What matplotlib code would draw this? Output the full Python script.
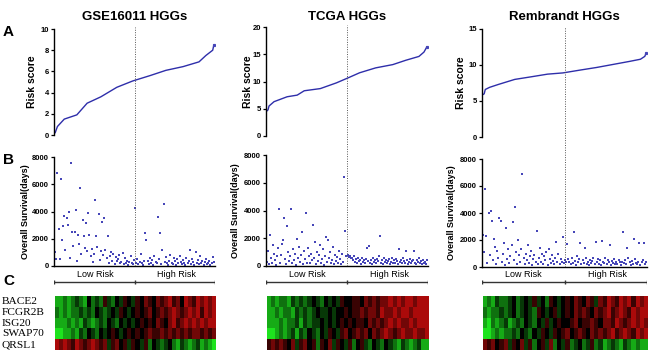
import numpy as np
import matplotlib
matplotlib.use("Agg")
import matplotlib.pyplot as plt
from matplotlib.colors import LinearSegmentedColormap

plt.rcParams["font.family"] = ["Liberation Sans", "DejaVu Sans"]

# =============================================================================
# DATA
# =============================================================================
TITLES = ["GSE16011 HGGs", "TCGA HGGs", "Rembrandt HGGs"]
GENES = ["BACE2", "FCGR2B", "ISG20", "SWAP70", "QRSL1"]

# risk score curve: (sample rank, risk score) points
gse_risk_rank = [0, 2, 8, 19, 28, 40, 54, 68, 83, 97, 112, 126, 132, 138, 139]
gse_risk = [0.2, 0.8, 1.5, 1.9, 3.0, 3.6, 4.5, 5.1, 5.6, 6.1, 6.45, 6.9, 7.5, 8.0, 8.5]
tcga_risk_rank = [0, 1, 2, 7, 20, 30, 37, 53, 69, 81, 92, 108, 125, 138, 151, 156, 159]
tcga_risk = [4.6, 4.8, 5.5, 6.3, 7.2, 7.5, 8.3, 8.7, 9.75, 10.7, 11.6, 12.5, 13.1, 13.9, 14.6, 15.4, 16.4]
remb_risk_rank = [0, 1, 2, 6, 14, 29, 44, 59, 73, 89, 104, 119, 134, 144, 148, 149]
remb_risk = [5.9, 6.0, 6.6, 6.9, 7.3, 8.0, 8.36, 8.73, 8.9, 9.3, 9.66, 10.08, 10.5, 10.8, 11.2, 11.6]

# overall survival (days), samples ordered by risk score
gse_surv = [
    1050, 550, 6800, 2720, 480, 6360, 1900, 2940, 3700, 1200,
    3550, 3010, 3990, 620, 7530, 2520, 1500, 2520, 4110, 350,
    2280, 1600, 5750, 900, 3380, 2200, 1300, 3130, 1100, 3870,
    2280, 700, 1250, 300, 900, 4840, 2200, 1400, 3800, 450,
    1100, 3250, 800, 3550, 1200, 600, 2230, 250, 700, 1000,
    400, 900, 150, 650, 350, 500, 800, 200, 300, 950,
    150, 600, 250, 400, 100, 300, 700, 200, 150, 450,
    4250, 200, 500, 150, 300, 900, 250, 100, 400, 2400,
    1900, 350, 150, 600, 250, 450, 100, 700, 300, 200,
    3600, 500, 2400, 150, 1150, 4550, 300, 650, 200, 100,
    400, 800, 250, 150, 600, 350, 100, 500, 200, 750,
    300, 150, 450, 250, 100, 600, 200, 350, 1200, 150,
    500, 300, 100, 1000, 250, 450, 150, 700, 200, 350,
    100, 300, 550, 150, 250, 400, 100, 200, 650, 300,
]
tcga_surv = [
    300, 1100, 150, 2230, 600, 200, 1500, 900, 400, 100,
    700, 1300, 4100, 250, 800, 1600, 1870, 3480, 500, 150,
    2880, 1000, 350, 700, 4100, 200, 1200, 450, 900, 100,
    1920, 600, 1400, 300, 800, 2470, 150, 1100, 500, 3840,
    250, 1300, 700, 200, 900, 400, 2950, 600, 1700, 150,
    1000, 350, 800, 1500, 250, 500, 1200, 100, 700, 2070,
    300, 1870, 600, 1000, 200, 450, 1400, 150, 800, 350,
    650, 250, 1100, 500, 150, 900, 300, 6440, 2550, 700,
    800, 650, 750, 550, 600, 400, 700, 300, 500, 250,
    600, 350, 450, 150, 550, 300, 400, 200, 500, 1270,
    350, 1470, 250, 450, 150, 600, 300, 400, 200, 500,
    350, 700, 2190, 250, 400, 150, 600, 300, 450, 200,
    350, 500, 150, 300, 600, 250, 400, 200, 500, 350,
    150, 1230, 300, 450, 200, 550, 350, 250, 1080, 400,
    150, 300, 500, 200, 350, 450, 1080, 250, 150, 400,
    300, 550, 200, 350, 150, 450, 250, 300, 150, 400,
]
remb_surv = [
    2370, 1100, 5750, 2300, 300, 4020, 900, 4150, 3410, 500,
    2050, 1500, 200, 1200, 700, 3650, 3400, 400, 1000, 1800,
    150, 2860, 600, 1300, 300, 800, 1600, 3360, 500, 4470,
    1100, 200, 2000, 900, 400, 1300, 6890, 700, 250, 1000,
    500, 1600, 300, 800, 1200, 150, 600, 900, 400, 2690,
    200, 700, 1400, 350, 1000, 250, 800, 500, 1100, 150,
    1310, 600, 300, 900, 450, 200, 700, 1880, 350, 1000,
    250, 600, 400, 2250, 300,
    500, 350, 1680, 600, 400, 250, 700, 300, 2620, 450,
    150, 800, 350, 600, 1800, 200, 500, 300, 1430, 650,
    250, 400, 150, 550, 300, 450, 700, 200, 1880, 350,
    600, 250, 500, 150, 1950, 400, 300, 650, 200, 500,
    350, 1630, 150, 450, 300, 600, 250, 400, 200, 550,
    350, 150, 400, 2620, 300, 500, 200, 1430, 650, 350,
    150, 450, 250, 2070, 600, 300, 200, 400, 1800, 150,
    350, 500, 1800, 250, 400,
]

# expression heatmaps (row = gene, low -> high risk), green < 0 < red
gse_expr = [
    [-3, -3, -2, -3, -2, -1, -2, -3, 0, -2, -1, -2, 1, -1, -2, 0, -1, 1, 0, -1, 1, 0, 2, 1, 0, 2, 1, 2, 3, 1, 2, 0, 3, 2, 1, 3, 2, 3, 2, 3],
    [-2, -3, -2, -3, -2, -2, -1, -2, -1, -2, 0, -1, -2, -1, 0, -1, 1, 0, -1, 0, 1, 0, 1, 2, 0, 1, 2, 1, 2, 3, 2, 1, 2, 3, 2, 3, 1, 3, 2, 3],
    [-3, -3, -3, -2, -3, -2, -3, -1, -2, -3, -2, -1, -2, 0, -1, -2, 0, -1, 0, -1, 0, 1, 0, 1, 0, 2, 1, 0, 2, 3, 1, 2, 3, 2, 3, 2, 3, 2, 3, 3],
    [-4, -4, -3, -3, -2, -3, -1, -2, 0, -1, -2, 0, -1, 0, 1, 0, -1, 0, 1, 0, 1, 0, 1, 2, 1, 1, 2, 1, 2, 1, 2, 1, 2, 1, 2, 2, 1, 2, 1, 2],
    [3, 2, 3, 2, 1, 3, 2, 1, 2, 3, 2, 1, 2, -1, 1, 2, 0, 1, -1, 1, 0, -1, 1, -2, 0, -1, -2, -1, 0, -2, -3, -1, -2, -3, -2, -1, -3, -2, -3, -4],
]
tcga_expr = [
    [-3, -2, -3, -2, -2, -3, -1, -2, -1, -2, -1, 0, -1, -2, 0, -1, 0, -1, 1, 0, 0, 1, 1, 0, 2, 1, 2, 1, 2, 2, 3, 2, 3, 2, 3, 3, 2, 3, 3, 3],
    [-3, -3, -2, -3, -2, -2, -3, -1, -2, -1, -2, -1, 0, -1, -1, 0, -1, 0, 0, 1, 0, 1, 1, 2, 1, 2, 2, 1, 3, 2, 2, 3, 2, 3, 3, 2, 3, 3, 3, 3],
    [-3, -3, -3, -2, -3, -2, -2, -1, -3, -1, -2, -1, -1, 0, -1, 0, -1, 0, 1, 0, 1, 0, 1, 1, 0, 2, 1, 2, 1, 2, 3, 2, 3, 2, 2, 3, 2, 3, 3, 3],
    [-4, -4, -3, -2, -3, -2, -1, -3, -1, -2, 0, -1, -2, 0, -1, 1, 0, -1, 1, 2, 0, 1, 2, 1, 2, 0, 2, 1, 2, 3, 2, 1, 2, 3, 2, 2, 3, 2, 2, 3],
    [1, 2, 1, 2, 1, 0, 2, -1, 1, 2, 0, 1, -2, 1, 0, 2, -1, 1, 0, -1, 1, -2, 0, 1, -1, -2, 0, -1, -2, 0, -1, -2, -3, -1, -2, -3, -2, -1, -3, -3],
]
remb_expr = [
    [-3, -2, -3, -1, -2, -2, -1, 0, -2, -1, 0, -1, 1, -1, 0, -2, 1, 0, -1, 0, 1, 0, 2, 1, 0, 2, 1, -1, 2, 1, 3, 2, 1, 3, 2, 3, 1, 3, 2, 3],
    [-2, -3, -2, -2, -1, -2, -1, 0, -2, -1, 0, -1, -2, 1, 0, -1, 0, 1, -1, 0, 1, 0, 2, 1, 2, 1, 0, 2, 1, 2, 3, 1, 2, 3, 2, 1, 3, 2, 3, 3],
    [-3, -4, -2, -3, -2, -1, -3, -2, -1, -2, 0, -1, -2, 0, -1, 1, -1, 0, 1, 0, 0, 1, 2, 0, 1, 1, 2, 1, 0, 2, 2, 1, 3, 2, 1, 2, 3, 2, 3, 2],
    [-4, -4, -3, -2, -3, -2, -2, -1, -2, 0, -1, -2, 0, -1, 1, 0, -1, 1, 0, 1, 2, 0, 1, 2, 1, 0, 2, 1, 2, 1, 2, 3, 1, 2, 3, 2, 1, 3, 2, 3],
    [2, 1, 2, 0, 1, 2, -1, 1, 0, 2, -1, 1, -2, 0, 1, -1, 2, -2, 0, -1, 1, -2, -1, 0, -2, -1, 1, -2, -1, -3, -2, -1, -2, -3, -1, -2, -3, -2, -3, -3],
]

RISK_TICKS = [[0, 2, 4, 6, 8, 10], [0, 5, 10, 15, 20], [0, 5, 10, 15]]
SURV_TICKS = [0, 2000, 4000, 6000, 8000]

# =============================================================================
# LAYOUT (pixel boxes: x0, x1, A top, A bottom, B top, B bottom)
# =============================================================================
W, H = 650, 352
BOXES = [
    (54, 215, 29, 135, 157, 266),
    (266, 428, 27, 136, 155, 266),
    (482, 647, 29, 137, 159, 267),
]
RISK_LABEL_X = [32, 248, 461]
SURV_LABEL_X = [26, 236, 451]
BRACKET_Y = 282
HEAT_TOP, HEAT_BOT = 296, 350

DOT = "#4646b8"
LINE = "#2e2eaa"
cmap = LinearSegmentedColormap.from_list("gkr", ["#22ff22", "#000000", "#ff1010"])

fig = plt.figure(figsize=(W / 100, H / 100), dpi=100)


def add_px_axes(x0, x1, y0, y1):
    return fig.add_axes([x0 / W, 1 - y1 / H, (x1 - x0) / W, (y1 - y0) / H])


def style_left(ax):
    for s in ["top", "right"]:
        ax.spines[s].set_visible(False)
    ax.spines["left"].set_linewidth(1.0)
    ax.spines["bottom"].set_linewidth(1.0)
    ax.tick_params(axis="y", length=2.5, width=0.9, pad=1, labelsize=5.5)
    for lab in ax.get_yticklabels():
        lab.set_fontweight("bold")
    ax.set_xticks([])


panels = [
    (gse_risk_rank, gse_risk, gse_surv, gse_expr),
    (tcga_risk_rank, tcga_risk, tcga_surv, tcga_expr),
    (remb_risk_rank, remb_risk, remb_surv, remb_expr),
]

for i, (rrank, rval, surv, expr) in enumerate(panels):
    x0, x1, a_top, a_bot, b_top, b_bot = BOXES[i]
    n = len(surv)
    mid = (n - 1) / 2
    xlim = (-1, n)

    # ── A: risk score ────────────────────────────────────────────────────────
    ax_a = add_px_axes(x0, x1, a_top, a_bot)
    ax_a.plot(rrank, rval, color=LINE, lw=1.0, solid_capstyle="round")
    ax_a.plot(rrank[-1:], rval[-1:], "s", color=DOT, ms=1.3)
    ax_a.set_xlim(xlim)
    ax_a.set_ylim(0, RISK_TICKS[i][-1])
    ax_a.set_yticks(RISK_TICKS[i])
    style_left(ax_a)
    ax_a.spines["bottom"].set_visible(False)

    # ── B: overall survival ──────────────────────────────────────────────────
    ax_b = add_px_axes(x0, x1, b_top, b_bot)
    ax_b.scatter(np.arange(n), surv, s=1.8, marker="s", color=DOT, linewidths=0)
    ax_b.set_xlim(xlim)
    ax_b.set_ylim(0, 8000)
    ax_b.set_yticks(SURV_TICKS)
    style_left(ax_b)

    # dotted median line through A and B
    span = (b_bot - (a_top - 2)) / (b_bot - b_top)
    ax_b.axvline(mid, ymin=0, ymax=span, clip_on=False, color="#555555",
                 lw=0.7, ls=(0, (1, 1.5)))

    # ── bracket with Low / High risk ─────────────────────────────────────────
    ax_r = add_px_axes(x0, x1, BRACKET_Y - 14, BRACKET_Y + 4)
    ax_r.set_xlim(xlim)
    ax_r.set_ylim(-4, 14)
    ax_r.axis("off")
    ax_r.plot([-1, n], [0, 0], color="#333333", lw=1.0)
    ax_r.vlines([-1, mid, n], -2.2, 2.2, color="#333333", lw=1.0)
    ax_r.text(mid * 0.5, 3, "Low Risk", ha="center", va="bottom", fontsize=6.5)
    ax_r.text(mid * 1.5 + 2, 3, "High Risk", ha="center", va="bottom", fontsize=6.5)

    # ── C: heatmap ───────────────────────────────────────────────────────────
    ax_h = add_px_axes(x0 + 1, x1 + 1, HEAT_TOP, HEAT_BOT)
    ax_h.imshow(np.array(expr), aspect="auto", cmap=cmap, vmin=-4.5, vmax=4.5,
                interpolation="nearest")
    ax_h.axis("off")

    # titles and y labels
    fig.text((x0 + x1) / 2 / W, 1 - 17 / H, TITLES[i], ha="center", va="center",
             fontsize=9.5, fontweight="bold")
    fig.text(RISK_LABEL_X[i] / W, 1 - ((a_top + a_bot) / 2) / H, "Risk score",
             rotation=90, ha="center", va="center", fontsize=7.5, fontweight="bold")
    fig.text(SURV_LABEL_X[i] / W, 1 - ((b_top + b_bot) / 2) / H,
             "Overall Survival(days)", rotation=90, ha="center", va="center",
             fontsize=6.5, fontweight="bold")

# panel letters
for letter, y in [("A", 32), ("B", 160), ("C", 281)]:
    fig.text(3 / W, 1 - y / H, letter, ha="left", va="center", fontsize=11,
             fontweight="bold")

# gene names
row_h = (HEAT_BOT - HEAT_TOP) / len(GENES)
for k, g in enumerate(GENES):
    fig.text(2 / W, 1 - (HEAT_TOP + row_h * (k + 0.5)) / H, g, ha="left",
             va="center", fontsize=8.2, family=["Liberation Serif", "DejaVu Serif"])

fig.savefig("out.png", dpi=100, facecolor="white")
